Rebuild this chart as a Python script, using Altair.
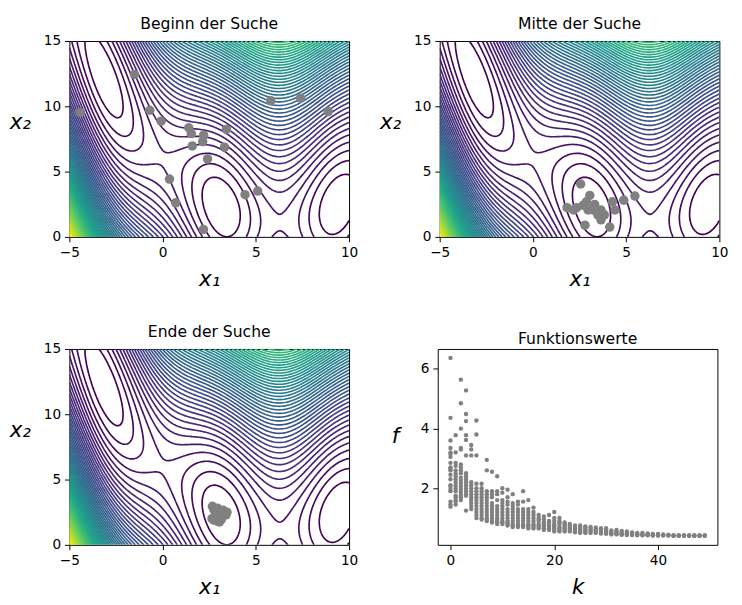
import numpy as np
import pandas as pd
import altair as alt

# ---------------- data ----------------
start_x1 = [-4.42, -1.51, -0.69, -0.08, 1.40, 1.54, 1.59, 2.20, 2.15, 3.42,
            3.32, 2.41, 0.37, 0.70, 2.19, 4.42, 5.10, 5.80, 7.40, 8.88]
start_x2 = [9.53, 12.44, 9.70, 8.86, 8.36, 7.91, 6.97, 7.79, 7.29, 8.23,
            6.87, 5.97, 4.43, 2.61, 0.57, 3.23, 3.51, 10.42, 10.62, 9.60]

mid_x1 = [2.56, 3.05, 1.83, 2.35, 2.70, 2.87, 3.31, 3.22, 3.65, 3.83,
          4.26, 4.40, 3.65, 4.87, 5.47, 2.79, 4.12, 2.96, 3.48, 2.18]
mid_x2 = [4.05, 3.18, 2.24, 2.24, 2.43, 2.69, 2.49, 2.06, 2.06, 1.69,
          2.69, 2.06, 1.31, 2.81, 3.13, 0.90, 0.75, 2.06, 1.69, 2.06]

end_x1 = [2.67, 2.75, 2.85, 2.95, 3.05, 3.15, 3.30, 3.45, 3.40, 3.20,
          3.00, 2.80, 2.65, 2.75, 2.95, 3.05, 3.15, 2.90, 3.10, 3.25]
end_x2 = [2.95, 2.70, 2.50, 2.80, 2.60, 2.40, 2.55, 2.50, 2.30, 2.20,
          2.10, 2.20, 2.00, 1.90, 1.80, 1.75, 1.95, 2.35, 2.25, 2.65]

# function values per iteration k (read column by column)
f_by_k = [
    [6.37, 4.36, 3.60, 3.35, 3.20, 3.15, 3.05, 2.85, 2.70, 2.65, 2.60, 2.45, 2.30, 2.10, 2.05, 1.95, 1.90, 1.55, 1.45, 1.38],
    [3.78, 3.20, 2.85, 2.75, 2.60, 2.50, 2.40, 2.30, 2.20, 2.10, 2.00, 1.90, 1.75, 1.70, 1.60, 1.55, 1.45],
    [5.64, 4.85, 4.00, 3.35, 3.30, 2.80, 2.70, 2.60, 2.50, 2.35, 2.25, 2.15, 2.05, 1.95, 1.85, 1.75, 1.70, 1.60],
    [5.28, 4.49, 4.25, 3.78, 3.62, 3.10, 2.50, 2.40, 2.30, 2.20, 2.10, 2.00, 1.90, 1.80, 1.75, 1.25],
    [3.45, 3.30, 3.10, 2.20, 2.10, 2.00, 1.90, 1.80, 1.70, 1.60, 1.50, 1.40, 1.30],
    [4.27, 3.80, 3.10, 2.15, 2.00, 1.90, 1.80, 1.70, 1.60, 1.50, 1.40, 1.30, 1.20, 1.10, 1.00],
    [2.15, 2.00, 1.90, 1.80, 1.70, 1.60, 1.50, 1.40, 1.30, 1.20, 1.10, 1.00, 0.95],
    [2.95, 2.60, 1.90, 1.80, 1.70, 1.60, 1.50, 1.40, 1.30, 1.20, 1.10, 1.00, 0.95, 0.90],
    [2.55, 1.90, 1.80, 1.70, 1.50, 1.40, 1.30, 1.20, 1.10, 1.00, 0.90, 0.85],
    [2.40, 1.90, 1.80, 1.60, 1.40, 1.30, 1.20, 1.10, 1.00, 0.95, 0.90, 0.85, 0.80],
    [2.00, 1.85, 1.60, 1.50, 1.40, 1.30, 1.20, 1.10, 1.00, 0.90, 0.85, 0.80],
    [1.95, 1.70, 1.55, 1.45, 1.30, 1.20, 1.10, 1.00, 0.90, 0.85, 0.80, 0.75],
    [1.80, 1.50, 1.40, 1.30, 1.20, 1.10, 1.00, 0.90, 0.80, 0.75, 0.70],
    [1.55, 1.45, 1.30, 1.20, 1.10, 1.00, 0.90, 0.80, 0.75, 0.70],
    [1.90, 1.55, 1.30, 1.20, 1.10, 1.00, 0.90, 0.80, 0.75, 0.70],
    [1.60, 1.30, 1.20, 1.10, 1.00, 0.90, 0.80, 0.75, 0.70, 0.65],
    [1.35, 1.20, 1.10, 1.00, 0.90, 0.80, 0.75, 0.70, 0.65],
    [1.10, 1.00, 0.95, 0.90, 0.80, 0.75, 0.70, 0.65],
    [1.05, 0.95, 0.85, 0.80, 0.75, 0.70, 0.65, 0.60],
    [1.10, 0.90, 0.85, 0.80, 0.75, 0.70, 0.65, 0.60],
    [1.20, 1.00, 0.90, 0.80, 0.75, 0.70, 0.65, 0.60, 0.55],
    [1.00, 0.90, 0.85, 0.80, 0.70, 0.65, 0.60, 0.55],
    [0.85, 0.80, 0.75, 0.70, 0.65, 0.60, 0.55],
    [0.80, 0.75, 0.70, 0.65, 0.60, 0.55],
    [0.75, 0.70, 0.65, 0.60, 0.55, 0.52],
    [0.75, 0.70, 0.65, 0.60, 0.55, 0.50],
    [0.72, 0.68, 0.62, 0.58, 0.52, 0.50],
    [0.70, 0.65, 0.60, 0.55, 0.50],
    [0.68, 0.62, 0.58, 0.53, 0.50],
    [0.66, 0.60, 0.55, 0.50, 0.48],
    [0.66, 0.60, 0.55, 0.50, 0.47],
    [0.58, 0.53, 0.50, 0.47, 0.45],
    [0.60, 0.55, 0.50, 0.47, 0.45],
    [0.57, 0.52, 0.48, 0.45, 0.44],
    [0.55, 0.50, 0.47, 0.45, 0.43],
    [0.52, 0.48, 0.45, 0.43],
    [0.50, 0.47, 0.44, 0.42],
    [0.50, 0.46, 0.43, 0.42],
    [0.48, 0.45, 0.43, 0.42],
    [0.47, 0.44, 0.42, 0.41],
    [0.47, 0.44, 0.42, 0.41],
    [0.45, 0.43, 0.41],
    [0.44, 0.42, 0.41],
    [0.42, 0.41, 0.40],
    [0.42, 0.41, 0.40],
    [0.42, 0.41, 0.40],
    [0.42, 0.41, 0.40],
    [0.42, 0.41, 0.40],
    [0.42, 0.41, 0.40],
    [0.42, 0.41, 0.40],
]

contour_levels = list(range(5, 310, 5))
x1_range = [-5, 10]
x2_range = [0, 15]

# ---------------- contour field (Branin function) ----------------
def branin(x1, x2):
    b = 5.1 / (4 * np.pi ** 2)
    c = 5 / np.pi
    t = 1 / (8 * np.pi)
    return (x2 - b * x1 ** 2 + c * x1 - 6) ** 2 + 10 * (1 - t) * np.cos(x1) + 10

xs = np.linspace(x1_range[0], x1_range[1], 161)
ys = np.linspace(x2_range[0], x2_range[1], 161)
XX, YY = np.meshgrid(xs, ys)
Z = branin(XX, YY)


def contour_paths(L):
    above = Z > L
    s = (above[:-1, :-1].astype(int) + above[:-1, 1:] + above[1:, :-1] + above[1:, 1:])
    cells = np.argwhere((s > 0) & (s < 4))
    segs = []
    for i, j in cells:
        b = ("h", i, j); r = ("v", i, j + 1); t = ("h", i + 1, j); l = ("v", i, j)
        cb = above[i, j] != above[i, j + 1]
        cr = above[i, j + 1] != above[i + 1, j + 1]
        ct = above[i + 1, j] != above[i + 1, j + 1]
        cl = above[i, j] != above[i + 1, j]
        crossed = [e for e, c in zip((b, r, t, l), (cb, cr, ct, cl)) if c]
        if len(crossed) == 2:
            segs.append((crossed[0], crossed[1]))
        elif len(crossed) == 4:
            center = (Z[i, j] + Z[i, j + 1] + Z[i + 1, j] + Z[i + 1, j + 1]) / 4 > L
            if center == above[i, j]:
                segs += [(b, r), (t, l)]
            else:
                segs += [(b, l), (t, r)]

    def pt(e):
        k, i, j = e
        if k == "h":
            z0, z1 = Z[i, j], Z[i, j + 1]
            tt = (L - z0) / (z1 - z0)
            return xs[j] + tt * (xs[j + 1] - xs[j]), ys[i]
        z0, z1 = Z[i, j], Z[i + 1, j]
        tt = (L - z0) / (z1 - z0)
        return xs[j], ys[i] + tt * (ys[i + 1] - ys[i])

    adj = {}
    for n, (a, b2) in enumerate(segs):
        adj.setdefault(a, []).append(n)
        adj.setdefault(b2, []).append(n)
    used = [False] * len(segs)

    def walk(e0, s0):
        path = [e0]
        cur = e0
        sidx = s0
        while sidx is not None:
            used[sidx] = True
            a, b2 = segs[sidx]
            nxt = b2 if a == cur else a
            path.append(nxt)
            cur = nxt
            sidx = None
            for m in adj[cur]:
                if not used[m]:
                    sidx = m
                    break
        return path

    paths = []
    for e, lst in adj.items():
        if len(lst) == 1 and not used[lst[0]]:
            paths.append(walk(e, lst[0]))
    for n in range(len(segs)):
        if not used[n]:
            paths.append(walk(segs[n][0], n))
    return [[pt(e) for e in p] for p in paths]


rows = []
lid = 0
for L in contour_levels:
    for path in contour_paths(L):
        for o, (px, py) in enumerate(path):
            rows.append((lid, o, round(float(px), 3), round(float(py), 3), L))
        lid += 1
contour_df = pd.DataFrame(rows, columns=["lid", "ord", "x1", "x2", "level"])

# ---------------- chart ----------------
FONT = "DejaVu Sans"
W, H = 287, 201
GRAY = "#808080"


def x_axis(values, title):
    return alt.Axis(values=values, title=title, titleFontSize=22, titleFontStyle="italic",
                    titleFontWeight="normal", titlePadding=10, labelFontSize=14,
                    labelPadding=4, tickSize=5, grid=False, domain=False,
                    tickColor="black", labelColor="black", titleColor="black",
                    labelFont=FONT, titleFont=FONT, labelFlush=False)


def y_axis(values, title, tx, ty):
    return alt.Axis(values=values, title=title, titleFontSize=22, titleFontStyle="italic",
                    titleFontWeight="normal", titleAngle=0, titleAlign="right",
                    titleBaseline="middle", titleX=tx, titleY=ty, labelFontSize=14,
                    labelPadding=4, tickSize=5, grid=False, domain=False,
                    tickColor="black", labelColor="black", titleColor="black",
                    labelFont=FONT, titleFont=FONT, labelFlush=False)


xsc = alt.Scale(domain=x1_range, nice=False, zero=False)
ysc = alt.Scale(domain=x2_range, nice=False, zero=False)


def panel(title, px1, px2):
    pts = pd.DataFrame({"x1": px1, "x2": px2})
    lines = alt.Chart(contour_df).mark_line(strokeWidth=1.7, clip=True).encode(
        x=alt.X("x1:Q", scale=xsc, axis=x_axis([-5, 0, 5, 10], "x₁")),
        y=alt.Y("x2:Q", scale=ysc, axis=y_axis([0, 5, 10, 15], "x₂", -40, H / 2 - 18)),
        color=alt.Color("level:Q", scale=alt.Scale(scheme="viridis", domain=[5, 305]), legend=None),
        detail="lid:N",
        order="ord:Q",
    )
    dots = alt.Chart(pts).mark_circle(size=95, color=GRAY, opacity=1).encode(
        x=alt.X("x1:Q", scale=xsc), y=alt.Y("x2:Q", scale=ysc))
    return alt.layer(lines, dots).properties(
        width=W, height=H,
        title=alt.TitleParams(title, fontSize=16, fontWeight="normal", font=FONT,
                              color="black", offset=2))


ks, fs = [], []
for k, vals in enumerate(f_by_k):
    for v in vals:
        ks.append(k)
        fs.append(v)
fdf = pd.DataFrame({"k": ks, "f": fs})

fpanel = alt.Chart(fdf).mark_circle(size=20, color=GRAY, opacity=1).encode(
    x=alt.X("k:Q", scale=alt.Scale(domain=[-2.45, 51.45], nice=False, zero=False),
            axis=x_axis([0, 20, 40], "k")),
    y=alt.Y("f:Q", scale=alt.Scale(domain=[0.1, 6.67], nice=False, zero=False),
            axis=y_axis([2, 4, 6], "f", -40, H / 2 - 12)),
).properties(width=W, height=H,
             title=alt.TitleParams("Funktionswerte", fontSize=16, fontWeight="normal",
                                   font=FONT, color="black", offset=2))

top = alt.hconcat(panel("Beginn der Suche", start_x1, start_x2),
                  panel("Mitte der Suche", mid_x1, mid_x2), spacing=20)
bottom = alt.hconcat(panel("Ende der Suche", end_x1, end_x2), fpanel, spacing=32)

chart = alt.vconcat(top, bottom, spacing=34).properties(
    padding={"left": 0, "top": 0, "right": 5, "bottom": 5}
).configure(font=FONT).configure_view(stroke="black", strokeWidth=1)

chart.save("out.html", embed_options={"renderer": "svg", "actions": False})
